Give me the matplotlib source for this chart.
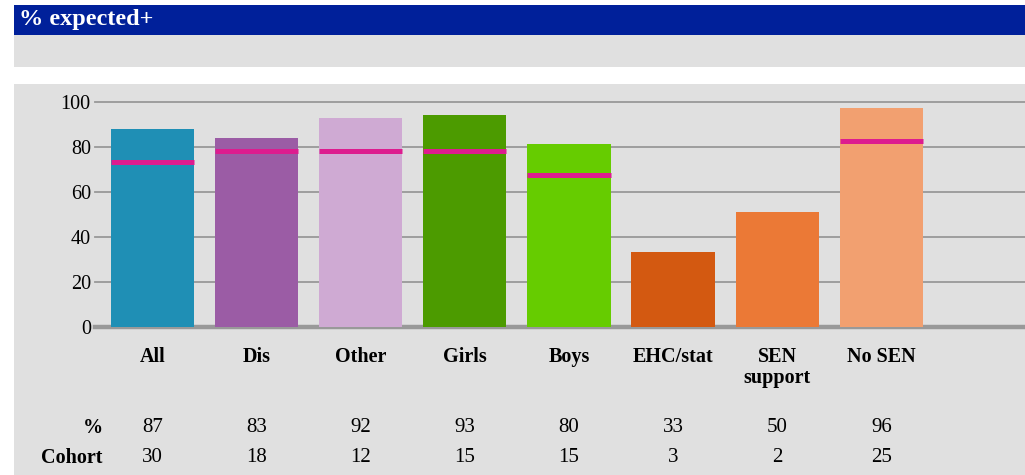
import numpy as np
import matplotlib.pyplot as plt
from matplotlib.patches import Rectangle
from matplotlib import transforms

# data
categories = ['All', 'Dis', 'Other', 'Girls', 'Boys', 'EHC/stat', 'SEN\nsupport', 'No SEN']
pct = [87, 83, 92, 93, 80, 33, 50, 96]
cohort = [30, 18, 12, 15, 15, 3, 2, 25]
# bar heights as drawn (slightly above the rounded table values)
heights = [88, 83.7, 92.6, 94, 81, 33.4, 50.8, 97.1]
# pink marker lines (None = no marker)
marker = [73, 78, 78, 78, 67.5, None, None, 82.6]
colors = ['#1f8fb5', '#9b5ca5', '#cfaad3', '#4c9b00', '#66cc00',
          '#d35911', '#eb7936', '#f2a070']

W, H = 1025, 475
plt.rcParams['font.family'] = ['Liberation Serif', 'DejaVu Serif']

fig = plt.figure(figsize=(W / 100, H / 100), dpi=100)
fig.patch.set_facecolor('white')


def fx(x):
    return x / W


def fy(y):
    return 1 - y / H


def box(x0, y0, x1, y1, color):
    fig.add_artist(Rectangle((fx(x0), fy(y1)), fx(x1) - fx(x0), fy(y0) - fy(y1),
                             transform=fig.transFigure, color=color, zorder=0, lw=0))


# header bar, grey band and main panel
box(14, 5, 1025, 35, '#00209a')
box(14, 35, 1025, 67, '#e0e0e0')
box(14, 84, 1025, 475, '#e0e0e0')
fig.text(fx(19), fy(20), '% expected+', color='white', fontsize=17.5,
         fontweight='bold', va='center', ha='left')

# plot area
ax = fig.add_axes([fx(95), fy(326.7), fx(1025) - fx(95), (326.7 - 101.7) / H])
ax.set_facecolor('none')
for s in ax.spines.values():
    s.set_visible(False)

x = np.arange(len(categories))
ax.set_xlim(-0.552, 8.38)
ax.set_ylim(0, 100)

for yv in [20, 40, 60, 80, 100]:
    ax.axhline(yv, color='#999999', lw=1.3, zorder=1, clip_on=False)
ax.axhline(0, color='#999999', lw=3.2, zorder=1, clip_on=False)

ax.bar(x, heights, width=0.8, color=colors, zorder=2)
for xi, m in zip(x, marker):
    if m is not None:
        ax.plot([xi - 0.4, xi + 0.4], [m, m], color='#dd1c8f', lw=3.6,
                solid_capstyle='butt', zorder=3)

ax.set_yticks([0, 20, 40, 60, 80, 100])
ax.tick_params(axis='y', length=0, pad=3, labelsize=14.5)
ax.set_xticks([])

# category labels
trans = transforms.blended_transform_factory(ax.transData, fig.transFigure)
for xi, c in zip(x, categories):
    ax.text(xi, fy(347), c, transform=trans, ha='center', va='top',
            fontsize=14.5, fontweight='bold', linespacing=1.05)

# table under the chart
fig.text(fx(103), fy(428), '%', ha='right', va='center', fontsize=14.5, fontweight='bold')
fig.text(fx(103), fy(458), 'Cohort', ha='right', va='center', fontsize=14.5, fontweight='bold')
for xi, p, c in zip(x, pct, cohort):
    ax.text(xi, fy(428), str(p), transform=trans, ha='center', va='center', fontsize=15)
    ax.text(xi, fy(458), str(c), transform=trans, ha='center', va='center', fontsize=15)

fig.savefig('out.png', dpi=100)
